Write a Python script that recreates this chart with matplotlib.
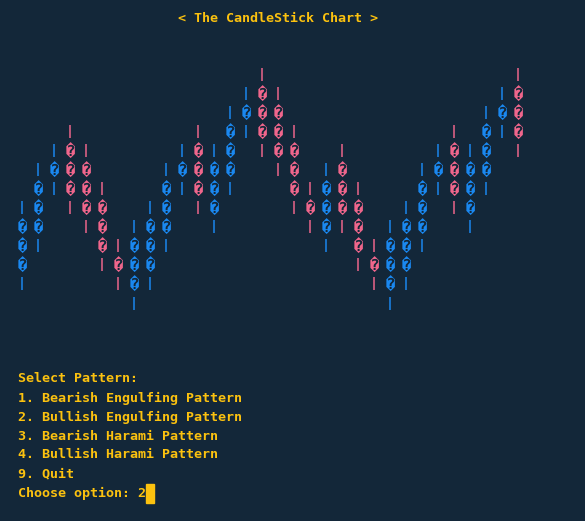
import matplotlib
matplotlib.use('Agg')
import matplotlib.pyplot as plt

# terminal colours
BG = '#132739'
BULL = '#1a88f0'
BEAR = '#f0668c'
YELLOW = '#fcc20f'

# candle data (price units = one text row)
opens  = [2, 4, 7, 9, 8, 6, 3, 1, 2, 4, 7, 9, 5, 7, 10, 12, 11, 9, 6, 4, 8, 6, 3, 1, 2, 4, 7, 9, 5, 7, 10, 12]
closes = [5, 7, 8, 6, 5, 3, 2, 4, 5, 7, 8, 6, 8, 10, 11, 9, 8, 6, 5, 7, 5, 3, 2, 4, 5, 7, 8, 6, 8, 10, 11, 9]
highs  = [6, 8, 9, 10, 9, 7, 4, 5, 6, 8, 9, 10, 9, 11, 12, 13, 12, 10, 7, 8, 9, 7, 4, 5, 6, 8, 9, 10, 9, 11, 12, 13]
lows   = [1, 3, 6, 5, 4, 2, 1, 0, 1, 3, 6, 5, 4, 6, 9, 8, 7, 5, 4, 3, 4, 2, 1, 0, 1, 3, 6, 5, 4, 6, 9, 8]

title = '< The CandleStick Chart >'
menu = ['Select Pattern:',
        '1. Bearish Engulfing Pattern',
        '2. Bullish Engulfing Pattern',
        '3. Bearish Harami Pattern',
        '4. Bullish Harami Pattern',
        '9. Quit',
        'Choose option: 2']

W, H = 585, 521
fig = plt.figure(figsize=(W / 100, H / 100), dpi=100, facecolor=BG)
ax = fig.add_axes([0, 0, 1, 1])
ax.set_facecolor(BG)
ax.axis('off')

# candle i sits at pixel x = 22 + 16*i, price p at pixel y = 312.5 - 19*p
ax.set_xlim(-22 / 16, (W - 22) / 16)
ax.set_ylim((312.5 - H) / 19, 312.5 / 19)

font = dict(family=['DejaVu Sans Mono', 'DejaVu Sans'], fontsize=9.6, fontweight='bold')
body_font = dict(font, fontsize=11)

for i in range(len(opens)):
    o, c, h, l = opens[i], closes[i], highs[i], lows[i]
    col = BULL if c > o else BEAR
    lo_b, hi_b = min(o, c), max(o, c)
    for p in range(l, h):
        if lo_b <= p < hi_b:
            ax.text(i, p + 0.5, '\ufffd', color=col, ha='center', va='center', **body_font)
        else:
            ax.text(i, p + 0.5, '|', color=col, ha='center', va='center', **font)

def term_text(col, row, s):
    x = 18 + 8 * col
    y = 18 + 19 * row
    fig.text(x / W, 1 - y / H, s, color=YELLOW, ha='left', va='center', **font)

term_text(20, 0, title)
for k, line in enumerate(menu):
    term_text(0, 19 + k, line)

# cursor block
cx = 18 + 8 * 16
cy = 18 + 19 * 25
fig.patches.append(plt.Rectangle((cx / W, 1 - (cy + 10) / H), 8 / W, 19 / H,
                                 transform=fig.transFigure, color=YELLOW))

fig.savefig('out.png', dpi=100, facecolor=BG)
